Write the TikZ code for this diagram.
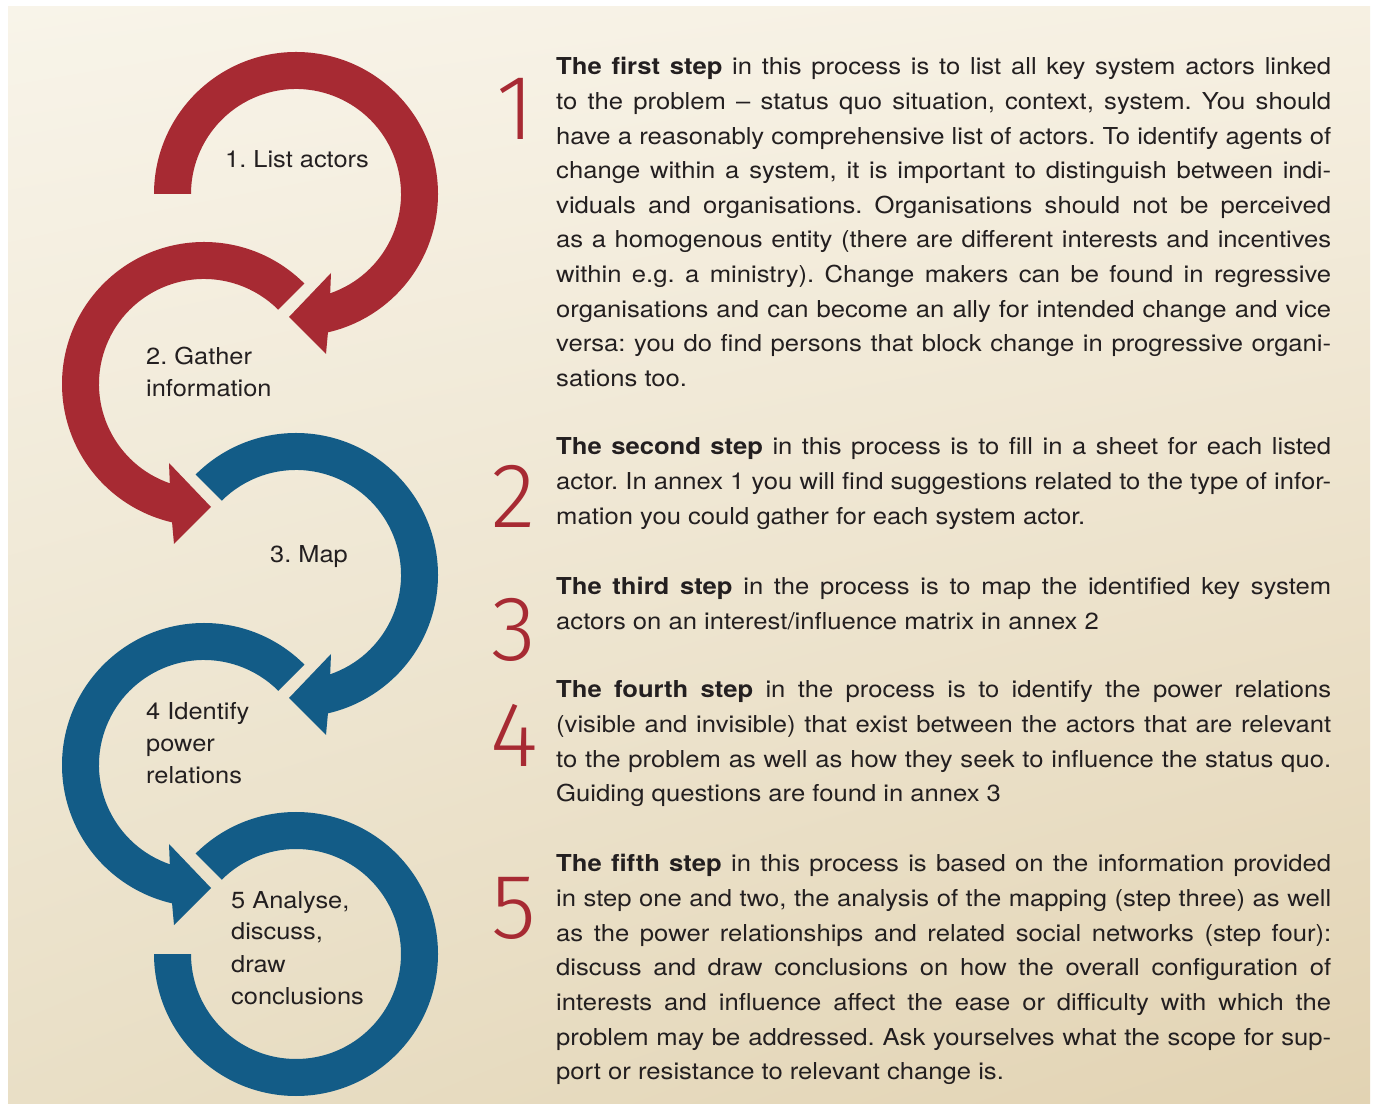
\documentclass[tikz,border=0pt]{standalone}
\usepackage{fontspec}
\usetikzlibrary{shadings}
\setmainfont{TeX Gyre Heros}[FakeStretch=1.1]
\newfontfamily\labfont{TeX Gyre Heros}[FakeStretch=1.09]
\newfontfamily\numfont{Fira Sans Light}
\definecolor{redA}{HTML}{A72A33}
\definecolor{blueA}{HTML}{135C87}
\definecolor{txt}{HTML}{231F20}
\definecolor{bgTL}{HTML}{F8F4E9}
\definecolor{bgTR}{HTML}{F6F0E2}
\definecolor{bgBL}{HTML}{E9DFC6}
\definecolor{bgBR}{HTML}{E2D3B3}
\newcommand{\jl}[1]{\hbox to 775pt{#1}}
\newcommand{\lastl}[1]{\hbox{#1}}
\frenchspacing
\begin{document}
\begin{tikzpicture}[x=1pt,y=1pt,
  bodytxt/.style={anchor=base west,inner sep=0pt,text=txt,font=\frenchspacing\fontsize{23.3}{34.6}\selectfont},
  labtxt/.style={anchor=base west,inner sep=0pt,text=txt,font=\labfont\fontsize{23.3}{32}\selectfont},
  bignum/.style={inner sep=0pt,text=redA,font=\numfont\fontsize{92}{92}\selectfont}]
\useasboundingbox (0,0) rectangle (1375,1103);
\fill[white] (0,0) rectangle (1375,1103);
\shade[upper left=bgTL, upper right=bgTR, lower left=bgBL, lower right=bgBR] (8,0) rectangle (1370,1096);

% arrow 1 (red)
\begin{scope}[shift={(296,909)}]
\fill[redA] (180:142) arc[start angle=180,end angle=-77,radius=142] -- (30,-160) -- (-7,-123) -- (35,-79) -- (-71:105) arc[start angle=-71,end angle=180,radius=105] -- cycle;
\end{scope}
% arrow 2 (red)
\begin{scope}[shift={(204,719)}]
\fill[redA] (45:142) arc[start angle=45,end angle=257,radius=142] -- (-30,-160) -- (7,-123) -- (-35,-79) -- (251:105) arc[start angle=251,end angle=45,radius=105] -- cycle;
\end{scope}
% arrow 3 (blue)
\begin{scope}[shift={(296,528)}]
\fill[blueA] (135:142) arc[start angle=135,end angle=-77,radius=142] -- (30,-160) -- (-7,-123) -- (35,-79) -- (-71:105) arc[start angle=-71,end angle=135,radius=105] -- cycle;
\end{scope}
% arrow 4 (blue)
\begin{scope}[shift={(204,338)}]
\fill[blueA] (45:142) arc[start angle=45,end angle=257,radius=142] -- (-30,-160) -- (7,-123) -- (-35,-79) -- (251:105) arc[start angle=251,end angle=45,radius=105] -- cycle;
\end{scope}
% ring 5 (blue)
\begin{scope}[shift={(296,149)}]
\fill[blueA] (135:142) arc[start angle=135,end angle=-180,radius=142] -- (180:105) arc[start angle=-180,end angle=135,radius=105] -- cycle;
\end{scope}

% step labels
\node[labtxt] (l1) at (225,935) {1. List actors};
\node[labtxt] (l2) at (146,738) {\vtop{\baselineskip=32pt\hbox{2. Gather}\hbox{information}}};
\node[labtxt] (l3) at (270,540) {3. Map};
\node[labtxt] (l4) at (146,383) {\vtop{\baselineskip=32pt\hbox{4 Identify}\hbox{power}\hbox{relations}}};
\node[labtxt] (l5) at (231,195) {\vtop{\baselineskip=32pt\hbox{5 Analyse,}\hbox{discuss,}\hbox{draw}\hbox{conclusions}}};

% big numbers
\node[bignum] (n1) at (515,994) {1};
\node[bignum] (n2) at (514,607) {2};
\node[bignum] (n3) at (514,473) {3};
\node[bignum] (n4) at (514,368) {4};
\node[bignum] (n5) at (514,195) {5};

% paragraphs
\node[bodytxt] (p1) at (556,1028) {\vtop{\baselineskip=34.6pt
\jl{\textbf{The first step} in this process is to list all key system actors linked}
\jl{to the problem – status quo situation, context, system. You should}
\jl{have a reasonably comprehensive list of actors. To identify agents of}
\jl{change within a system, it is important to distinguish between indi-}
\jl{viduals and organisations. Organisations should not be perceived}
\jl{as a homogenous entity (there are different interests and incentives}
\jl{within e.g. a ministry). Change makers can be found in regressive}
\jl{organisations and can become an ally for intended change and vice}
\jl{versa: you do find persons that block change in progressive organi-}
\lastl{sations too.}}};

\node[bodytxt] (p2) at (556,648) {\vtop{\baselineskip=34.6pt
\jl{\textbf{The second step} in this process is to fill in a sheet for each listed}
\jl{actor. In annex 1 you will find suggestions related to the type of infor-}
\lastl{mation you could gather for each system actor.}}};

\node[bodytxt] (p3) at (556,508) {\vtop{\baselineskip=34.6pt
\jl{\textbf{The third step} in the process is to map the identified key system}
\lastl{actors on an interest/influence matrix in annex 2}}};

\node[bodytxt] (p4) at (556,405) {\vtop{\baselineskip=34.6pt
\jl{\textbf{The fourth step} in the process is to identify the power relations}
\jl{(visible and invisible) that exist between the actors that are relevant}
\jl{to the problem as well as how they seek to influence the status quo.}
\lastl{Guiding questions are found in annex 3}}};

\node[bodytxt] (p5) at (556,231) {\vtop{\baselineskip=34.6pt
\jl{\textbf{The fifth step} in this process is based on the information provided}
\jl{in step one and two, the analysis of the mapping (step three) as well}
\jl{as the power relationships and related social networks (step four):}
\jl{discuss and draw conclusions on how the overall configuration of}
\jl{interests and influence affect the ease or difficulty with which the}
\jl{problem may be addressed. Ask yourselves what the scope for sup-}
\lastl{port or resistance to relevant change is.}}};
\end{tikzpicture}
\end{document}
